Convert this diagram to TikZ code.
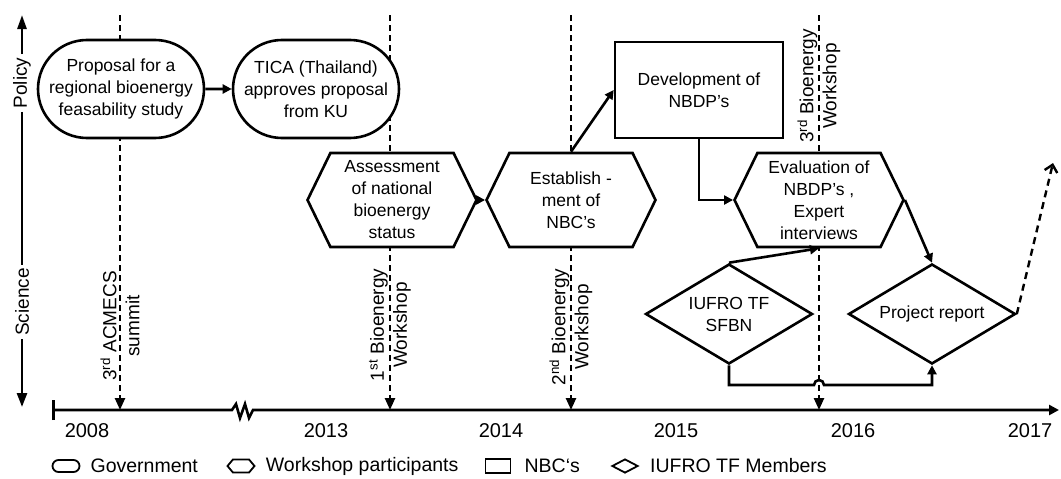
\documentclass[tikz,border=0pt]{standalone}
\usepackage{fontspec}
\setmainfont{Liberation Sans}
\usetikzlibrary{positioning,arrows.meta,shapes.misc,shapes.geometric,shapes.symbols}

\tikzset{
  gov/.style={rounded rectangle,draw,fill=white,line width=2.6pt,
    minimum width=168pt,minimum height=98pt,align=center,inner sep=1pt},
  wshop/.style={signal,signal to=west and east,signal pointer angle=128,
    draw,fill=white,line width=2.6pt,minimum width=169pt,minimum height=94pt,
    align=center,inner sep=1pt},
  nbc/.style={rectangle,draw,fill=white,line width=2.6pt,
    minimum width=168pt,minimum height=96pt,align=center},
  iufro/.style={diamond,aspect=1.67,draw,fill=white,line width=2.6pt,
    minimum width=167pt,minimum height=100pt,align=center,inner sep=1pt},
  conn/.style={line width=2.6pt,-{Triangle[length=9pt,width=9pt]}},
  evline/.style={line width=2.4pt,dash pattern=on 6pt off 4pt,
    -{Triangle[length=12pt,width=10pt]}},
  evtext/.style={rotate=90,align=center,font=\fontsize{19}{23}\selectfont},
  axtext/.style={rotate=90,font=\fontsize{19}{23}\selectfont},
  yeartext/.style={font=\fontsize{20}{24}\selectfont},
  legtext/.style={font=\fontsize{19.5}{24}\selectfont,inner sep=0pt}
}

\begin{document}
\begin{tikzpicture}[x=1pt,y=-1pt,font=\fontsize{17.5}{22}\selectfont]
\useasboundingbox (0,0) rectangle (1061,479);

% meetings on the time line
\foreach \ex in {120,390,571,819}
  \draw[evline] (\ex,15) -- (\ex,410);

% policy - science axis
\node[axtext] (policy) at (22,83) {Policy};
\node[axtext] (science) at (22,302) {Science};
\coordinate (ptop) at (22,15);
\coordinate (sbot) at (22,407);
\draw[line width=2.6pt,-{Triangle[length=14pt,width=9pt]}] (policy) -- (ptop);
\draw[line width=2.6pt] (policy) -- (science);
\draw[line width=2.6pt,-{Triangle[length=14pt,width=10pt]}] (science) -- (sbot);

% time line
\coordinate (t0) at (52,410);
\coordinate (t1) at (1059,410);
\draw[line width=2.6pt,{Bar[width=20pt]}-{Triangle[length=10pt,width=10pt]}]
  (t0) -- (232,410) -- (236,404) -- (240,418) -- (245,404) -- (249,418)
  -- (253,410) -- (t1);
\foreach \yr/\yx in {2008/87,2013/326,2014/501,2015/676,2016/853,2017/1030}
  \node[yeartext] (y\yr) at (\yx,431) {\yr};

\node[evtext] (acmecs) at (120,326) {3\textsuperscript{rd} ACMECS\\summit};
\node[evtext] (bw1) at (390,325) {1\textsuperscript{st} Bioenergy\\Workshop};
\node[evtext] (bw2) at (571,327) {2\textsuperscript{nd} Bioenergy\\Workshop};
\node[evtext] (bw3) at (819,86) {3\textsuperscript{rd} Bioenergy\\Workshop};

% steps
\node[gov] (prop) at (121,89) {Proposal for a\\regional bioenergy\\feasability study};
\node[gov] (tica) at (316,89) {TICA (Thailand)\\approves proposal\\from KU};
\node[wshop] (assess) at (392,200) {Assessment\\of national\\bioenergy\\status};
\node[wshop] (establ) at (571,200) {Establish -\\ment of\\NBC’s};
\node[nbc] (devel) at (699,90) {Development of\\NBDP’s};
\node[wshop] (evalu) at (819,200) {Evaluation of\\NBDP’s ,\\Expert\\interviews};
\node[iufro] (sfbn) at (729,314) {IUFRO TF\\SFBN};
\node[iufro] (report) at (932,314) {Project report};

\draw[conn] (prop) -- (tica);
\draw[conn] (assess) -- (establ);
\draw[conn] (establ.north) -- (devel.west);
\draw[conn] (devel.south) |- (evalu.west);
\draw[conn] (sfbn.north) -- (evalu.south);
\draw[conn] (evalu.east) -- (report.north);
\coordinate (hop) at (819,385);
\draw[conn] (sfbn.south) |- ([xshift=-5pt]hop) arc[start angle=180,end angle=0,radius=5pt]
  -| (report.south);
\coordinate (fut) at (1053,163);
\draw[line width=2.4pt,dash pattern=on 7pt off 5pt,
  -{Straight Barb[length=7pt,width=13pt]}] (report.east) -- (fut);

% legend
\node[gov,minimum width=27pt,minimum height=12pt,line width=1.8pt,inner sep=0pt] (lgov) at (66,466) {};
\node[legtext,right=10pt of lgov] (tgov) {Government};
\node[wshop,minimum width=27pt,minimum height=13pt,signal pointer angle=100,line width=1.8pt,inner sep=0pt] (lws) at (241,466) {};
\node[legtext,right=10pt of lws] (tws) {Workshop participants};
\node[nbc,minimum width=25pt,minimum height=14pt,line width=1.8pt,inner sep=0pt] (lnbc) at (498,466) {};
\node[legtext,right=13pt of lnbc] (tnbc) {NBC‘s};
\node[iufro,minimum width=26pt,minimum height=14pt,line width=1.8pt,inner sep=0pt] (lif) at (625,466) {};
\node[legtext,right=11pt of lif] (tif) {IUFRO TF Members};
\end{tikzpicture}
\end{document}
